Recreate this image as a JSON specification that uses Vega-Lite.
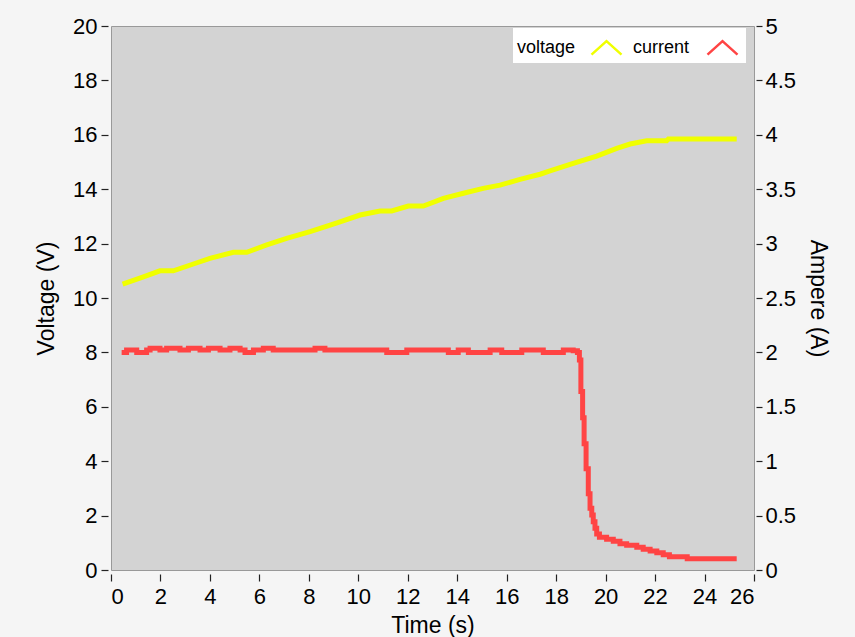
{
  "$schema": "https://vega.github.io/schema/vega-lite/v6.json",
  "width": 643,
  "height": 544,
  "autosize": {"type": "none"},
  "padding": {"left": 111, "top": 26, "right": 101, "bottom": 67},
  "background": "#f5f5f5",
  "config": {
    "font": "Liberation Sans",
    "view": {"fill": "#d3d3d3", "stroke": "#999999"},
    "axis": {
      "labelFontSize": 22,
      "titleFontSize": 23,
      "labelColor": "#000000",
      "titleColor": "#000000",
      "tickColor": "#222222",
      "tickWidth": 1.2,
      "domain": false,
      "grid": false,
      "labelFont": "Liberation Sans",
      "titleFont": "Liberation Sans",
      "titleFontWeight": "normal"
    }
  },
  "datasets": {
    "voltage": [
      {"t": 0.47, "value": 10.51, "series": "voltage"},
      {"t": 1.31, "value": 10.78, "series": "voltage"},
      {"t": 1.98, "value": 11.0, "series": "voltage"},
      {"t": 2.52, "value": 11.0, "series": "voltage"},
      {"t": 3.33, "value": 11.25, "series": "voltage"},
      {"t": 4.0, "value": 11.46, "series": "voltage"},
      {"t": 4.95, "value": 11.68, "series": "voltage"},
      {"t": 5.49, "value": 11.68, "series": "voltage"},
      {"t": 6.3, "value": 11.95, "series": "voltage"},
      {"t": 7.1, "value": 12.19, "series": "voltage"},
      {"t": 8.05, "value": 12.44, "series": "voltage"},
      {"t": 8.86, "value": 12.68, "series": "voltage"},
      {"t": 9.26, "value": 12.8, "series": "voltage"},
      {"t": 10.07, "value": 13.05, "series": "voltage"},
      {"t": 10.88, "value": 13.2, "series": "voltage"},
      {"t": 11.35, "value": 13.2, "series": "voltage"},
      {"t": 12.02, "value": 13.38, "series": "voltage"},
      {"t": 12.63, "value": 13.38, "series": "voltage"},
      {"t": 13.44, "value": 13.66, "series": "voltage"},
      {"t": 14.25, "value": 13.85, "series": "voltage"},
      {"t": 15.05, "value": 14.03, "series": "voltage"},
      {"t": 15.73, "value": 14.15, "series": "voltage"},
      {"t": 16.54, "value": 14.36, "series": "voltage"},
      {"t": 17.35, "value": 14.55, "series": "voltage"},
      {"t": 17.75, "value": 14.67, "series": "voltage"},
      {"t": 18.69, "value": 14.95, "series": "voltage"},
      {"t": 19.64, "value": 15.22, "series": "voltage"},
      {"t": 20.45, "value": 15.5, "series": "voltage"},
      {"t": 20.99, "value": 15.66, "series": "voltage"},
      {"t": 21.66, "value": 15.78, "series": "voltage"},
      {"t": 22.47, "value": 15.78, "series": "voltage"},
      {"t": 22.54, "value": 15.85, "series": "voltage"},
      {"t": 25.3, "value": 15.85, "series": "voltage"}
    ],
    "current": [
      {"t": 0.43, "value": 2.0, "series": "current"},
      {"t": 0.63, "value": 2.022, "series": "current"},
      {"t": 1.04, "value": 2.0, "series": "current"},
      {"t": 1.44, "value": 2.022, "series": "current"},
      {"t": 1.58, "value": 2.037, "series": "current"},
      {"t": 1.98, "value": 2.022, "series": "current"},
      {"t": 2.25, "value": 2.037, "series": "current"},
      {"t": 2.79, "value": 2.022, "series": "current"},
      {"t": 3.13, "value": 2.037, "series": "current"},
      {"t": 3.6, "value": 2.022, "series": "current"},
      {"t": 3.94, "value": 2.037, "series": "current"},
      {"t": 4.41, "value": 2.022, "series": "current"},
      {"t": 4.81, "value": 2.037, "series": "current"},
      {"t": 5.22, "value": 2.022, "series": "current"},
      {"t": 5.42, "value": 2.0, "series": "current"},
      {"t": 5.76, "value": 2.022, "series": "current"},
      {"t": 6.16, "value": 2.037, "series": "current"},
      {"t": 6.56, "value": 2.022, "series": "current"},
      {"t": 8.25, "value": 2.037, "series": "current"},
      {"t": 8.65, "value": 2.022, "series": "current"},
      {"t": 11.15, "value": 2.0, "series": "current"},
      {"t": 11.96, "value": 2.022, "series": "current"},
      {"t": 13.64, "value": 2.0, "series": "current"},
      {"t": 14.04, "value": 2.022, "series": "current"},
      {"t": 14.45, "value": 2.0, "series": "current"},
      {"t": 15.33, "value": 2.022, "series": "current"},
      {"t": 15.8, "value": 2.0, "series": "current"},
      {"t": 16.61, "value": 2.022, "series": "current"},
      {"t": 17.48, "value": 2.0, "series": "current"},
      {"t": 18.29, "value": 2.022, "series": "current"},
      {"t": 18.69, "value": 2.015, "series": "current"},
      {"t": 18.86, "value": 2.0, "series": "current"},
      {"t": 18.94, "value": 1.93, "series": "current"},
      {"t": 19.0, "value": 1.64, "series": "current"},
      {"t": 19.07, "value": 1.4, "series": "current"},
      {"t": 19.13, "value": 1.16, "series": "current"},
      {"t": 19.21, "value": 0.93, "series": "current"},
      {"t": 19.3, "value": 0.7, "series": "current"},
      {"t": 19.37, "value": 0.567, "series": "current"},
      {"t": 19.44, "value": 0.505, "series": "current"},
      {"t": 19.5, "value": 0.444, "series": "current"},
      {"t": 19.57, "value": 0.383, "series": "current"},
      {"t": 19.64, "value": 0.331, "series": "current"},
      {"t": 19.75, "value": 0.3, "series": "current"},
      {"t": 20.04, "value": 0.282, "series": "current"},
      {"t": 20.31, "value": 0.264, "series": "current"},
      {"t": 20.58, "value": 0.242, "series": "current"},
      {"t": 20.85, "value": 0.227, "series": "current"},
      {"t": 21.26, "value": 0.209, "series": "current"},
      {"t": 21.52, "value": 0.19, "series": "current"},
      {"t": 21.8, "value": 0.175, "series": "current"},
      {"t": 22.07, "value": 0.159, "series": "current"},
      {"t": 22.33, "value": 0.141, "series": "current"},
      {"t": 22.58, "value": 0.122, "series": "current"},
      {"t": 23.3, "value": 0.104, "series": "current"},
      {"t": 25.3, "value": 0.104, "series": "current"}
    ]
  },
  "layer": [
    {
      "data": {"name": "voltage"},
      "mark": {"type": "line", "strokeWidth": 5, "interpolate": "linear"},
      "encoding": {
        "x": {
          "field": "t",
          "type": "quantitative",
          "scale": {"domain": [0, 26], "nice": false, "zero": false},
          "axis": {
            "values": [0, 2, 4, 6, 8, 10, 12, 14, 16, 18, 20, 22, 24, 26],
            "title": "Time (s)",
            "offset": 4,
            "tickSize": 7,
            "labelPadding": 5,
            "titlePadding": 7
          }
        },
        "y": {
          "field": "value",
          "type": "quantitative",
          "scale": {"domain": [0, 20], "nice": false},
          "axis": {
            "orient": "left",
            "values": [0, 2, 4, 6, 8, 10, 12, 14, 16, 18, 20],
            "title": "Voltage (V)",
            "offset": 3,
            "tickSize": 7,
            "labelPadding": 4,
            "titlePadding": 14
          }
        },
        "color": {
          "field": "series",
          "type": "nominal",
          "scale": {"domain": ["voltage", "current"], "range": ["#f0ff00", "#ff4444"]},
          "legend": {
            "orient": "none",
            "legendX": 402,
            "legendY": 2,
            "direction": "horizontal",
            "title": null,
            "fillColor": "#ffffff",
            "padding": 3,
            "labelFontSize": 18,
            "labelFont": "Liberation Sans",
            "labelColor": "#000000",
            "symbolType": "M-1,0.45L0,-0.45L1,0.45",
            "symbolSize": 900,
            "symbolStrokeWidth": 2.5,
            "symbolFillColor": "transparent",
            "labelOffset": -106,
            "symbolOffset": 74,
            "columnPadding": 5
          }
        }
      }
    },
    {
      "data": {"name": "current"},
      "mark": {"type": "line", "strokeWidth": 5, "interpolate": "step-after"},
      "encoding": {
        "x": {"field": "t", "type": "quantitative", "scale": {"domain": [0, 26], "nice": false, "zero": false}},
        "y": {
          "field": "value",
          "type": "quantitative",
          "scale": {"domain": [0, 5], "nice": false},
          "axis": {
            "orient": "right",
            "values": [0, 0.5, 1, 1.5, 2, 2.5, 3, 3.5, 4, 4.5, 5],
            "format": "~g",
            "title": "Ampere (A)",
            "offset": 2,
            "tickSize": 6,
            "labelPadding": 3,
            "titlePadding": 10
          }
        },
        "color": {"field": "series", "type": "nominal"}
      }
    }
  ],
  "resolve": {"scale": {"y": "independent"}}
}
